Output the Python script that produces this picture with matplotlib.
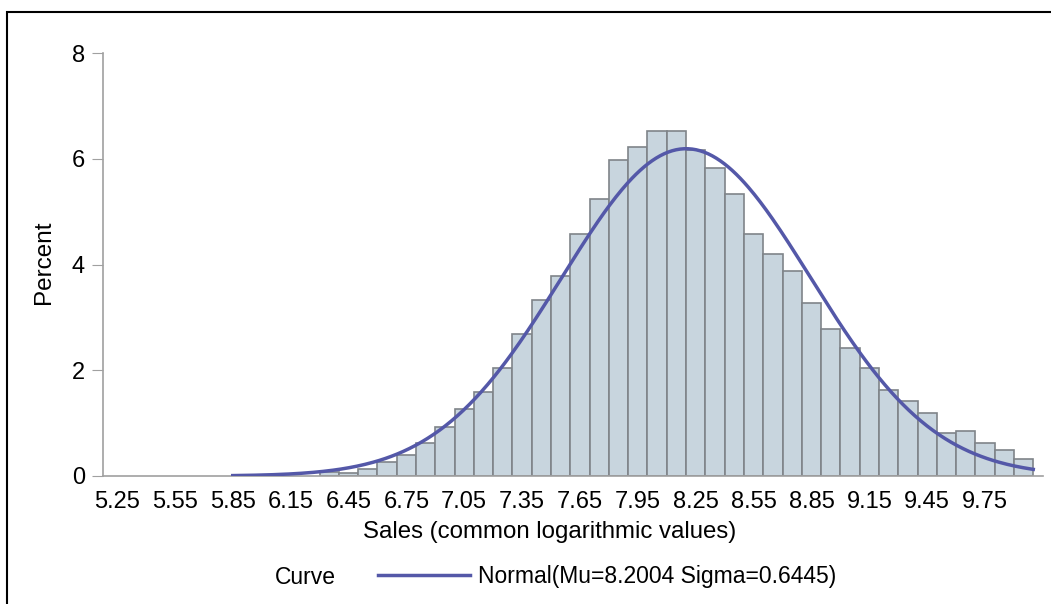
import matplotlib.pyplot as plt
import numpy as np
from matplotlib.patches import Rectangle

plt.rcParams['font.family'] = ['Liberation Sans', 'DejaVu Sans']

# bin midpoints (width 0.1) and percent per bin
bin_mid = [6.35, 6.45, 6.55, 6.65, 6.75, 6.85, 6.95, 7.05, 7.15, 7.25,
           7.35, 7.45, 7.55, 7.65, 7.75, 7.85, 7.95, 8.05, 8.15, 8.25,
           8.35, 8.45, 8.55, 8.65, 8.75, 8.85, 8.95, 9.05, 9.15, 9.25,
           9.35, 9.45, 9.55, 9.65, 9.75, 9.85, 9.95]
percent = [0.08, 0.05, 0.13, 0.26, 0.39, 0.62, 0.92, 1.26, 1.59, 2.05,
           2.68, 3.32, 3.79, 4.57, 5.24, 5.97, 6.23, 6.52, 6.52, 6.16,
           5.82, 5.33, 4.57, 4.19, 3.88, 3.27, 2.78, 2.43, 2.05, 1.63,
           1.41, 1.19, 0.81, 0.85, 0.62, 0.50, 0.33]
bin_width = 0.1
x_ticks = [5.25, 5.55, 5.85, 6.15, 6.45, 6.75, 7.05, 7.35, 7.65, 7.95,
           8.25, 8.55, 8.85, 9.15, 9.45, 9.75]
y_ticks = [0, 2, 4, 6, 8]
mu = 8.2004
sigma = 0.6445
curve_start, curve_end = 5.85, 10.0

fig = plt.figure(figsize=(10.51, 6.04), dpi=100)
ax = fig.add_axes([103/1051, 1-476/604, (1043-103)/1051, (476-53)/604])

ax.bar(bin_mid, percent, bin_width, color="#c8d5de", edgecolor="#7f8489",
       linewidth=1.2, zorder=2)

# fitted normal curve scaled to percent per bin
xs = np.linspace(curve_start, curve_end, 400)
ys = 100*bin_width/(sigma*np.sqrt(2*np.pi))*np.exp(-0.5*((xs-mu)/sigma)**2)
line, = ax.plot(xs, ys, color="#5458a8", linewidth=2.5, zorder=3,
                label="Normal(Mu=8.2004 Sigma=0.6445)")

ax.set_xlim(5.1774, 10.0504)
ax.set_ylim(0, 8)
ax.set_xticks(x_ticks)
ax.set_xticklabels(["%.2f" % v for v in x_ticks])
ax.set_yticks(y_ticks)
ax.tick_params(axis="x", length=0, labelsize=17, pad=11)
ax.tick_params(axis="y", length=8, color="#a0a0a0", labelsize=17, pad=5)
for s in ["top", "right"]:
    ax.spines[s].set_visible(False)
for s in ["left", "bottom"]:
    ax.spines[s].set_color("#a0a0a0")
    ax.spines[s].set_linewidth(1.2)

ax.set_xlabel("Sales (common logarithmic values)", fontsize=17.3, va="center")
ax.xaxis.set_label_coords((549.5-103)/940, -(532-476)/423)
ax.set_ylabel("Percent", fontsize=17.5, va="center")
ax.yaxis.set_label_coords((44-103)/940, (476-262.5)/423)

fig.text(305/1051, 1-577/604, "Curve", fontsize=16.5, ha="center", va="center")
fig.legend(handles=[line], loc="center left", bbox_to_anchor=(378/1051, 1-577/604),
           frameon=False, fontsize=16.5, handlelength=4.0, handletextpad=0.35,
           borderpad=0, borderaxespad=0)

# outer frame
fig.patches.append(Rectangle((7/1051, -0.1), 1.2, 1-12/604+0.1,
                             transform=fig.transFigure, fill=False,
                             edgecolor="black", linewidth=1.5))

fig.savefig("out.png", dpi=100)
